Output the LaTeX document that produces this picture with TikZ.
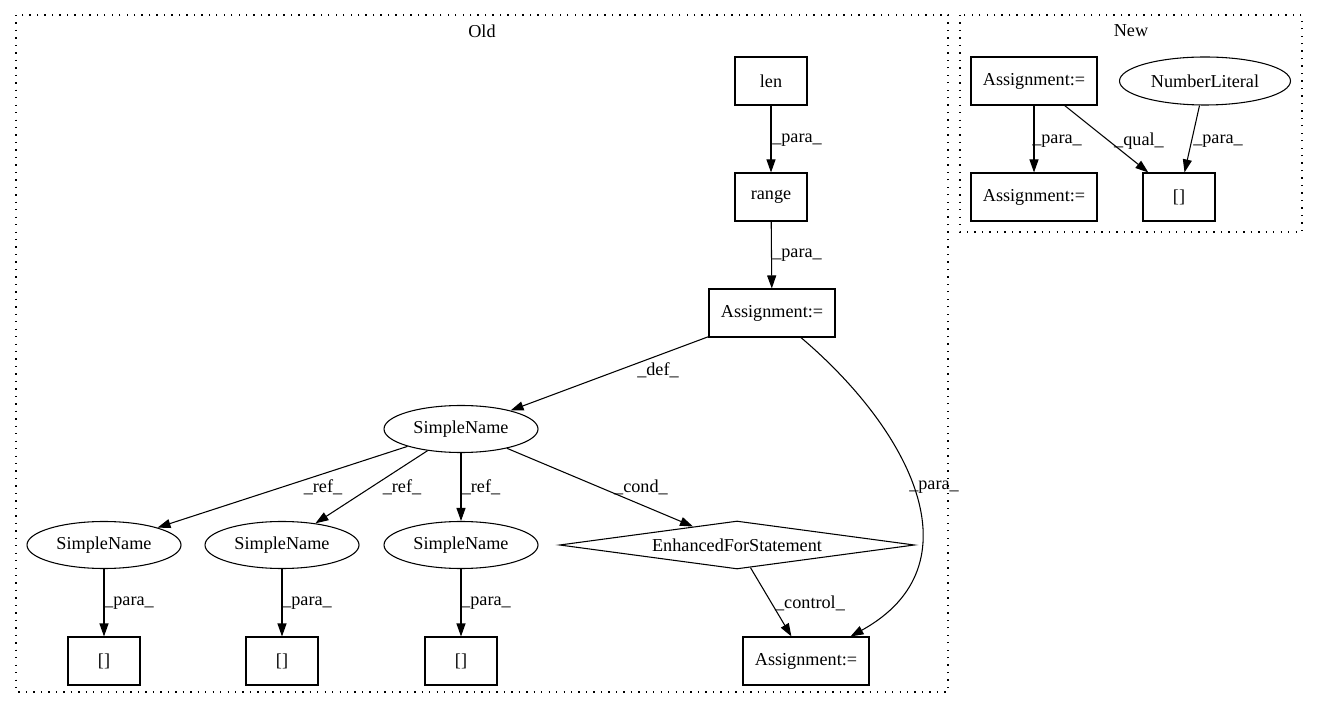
\documentclass[tikz,border=0pt]{standalone}
\usepackage{fontspec}
\setmainfont{Liberation Serif}
\usetikzlibrary{positioning, shapes.geometric, arrows.meta}
\newcommand{\pxUnit}{0.75pt}
\tikzstyle{graphPlane} = [x = \pxUnit, y = -\pxUnit, font=\fontsize{13.65}{16}\selectfont]
\tikzstyle{boxNode} = [draw, rectangle, line width=0.8pt, inner sep=0pt, minimum height=48*\pxUnit]
\tikzstyle{smallBox} = [boxNode, minimum width=72*\pxUnit]
\tikzstyle{wideBox} = [boxNode, minimum width=126*\pxUnit]
\tikzstyle{nameEllipse} = [draw, ellipse, line width=0.8pt, inner sep=0pt, minimum width=154*\pxUnit, minimum height=47*\pxUnit]
\tikzstyle{numEllipse} = [nameEllipse, minimum width=171*\pxUnit, minimum height=48*\pxUnit]
\tikzstyle{forDiamond} = [draw, diamond, aspect=7.4, line width=0.8pt, inner sep=0pt, minimum width=355*\pxUnit, minimum height=48*\pxUnit]
\tikzstyle{edgeLine} = [line width=0.8pt, -{Triangle[length=9.75pt, width=6.75pt]}]
\tikzstyle{edgeText} = [inner sep=0pt]
\tikzstyle{clusterLine} = [line width=0.8pt, dash pattern=on 1pt off 4.6pt]
\newcommand{\clusterFrame}[5]{\draw [clusterLine] (#1,#2) rectangle (#3,#4); \node (#5Label) at ({(#1+#3)/2}, #2+16) {#5};}
\newcommand{\labelledEdge}[5]{\draw [edgeLine] (#1) -- (#2); \node [edgeText] (#3) at (#4) {\_#5\_};}

\begin{document}
\begin{tikzpicture}[graphPlane]
          \useasboundingbox (0,0) rectangle (1317,712);
          \clusterFrame{16}{15}{948}{692}{Old}
          \clusterFrame{960}{15}{1302}{232}{New}

          % old side
          \node [smallBox] (len) at (771,81) {len};
          \node [smallBox] (range) at (771,197) {range};
          \node [wideBox] (rangeAssign) at (772,313) {Assignment:=};
          \node [nameEllipse] (loopVar) at (461,429) {SimpleName};
          \node [nameEllipse] (useA) at (104,545) {SimpleName};
          \node [nameEllipse] (useB) at (282,545) {SimpleName};
          \node [nameEllipse] (useC) at (461,545) {SimpleName};
          \node [forDiamond] (forLoop) at (737,545) {EnhancedForStatement};
          \node [smallBox] (accessA) at (104,661) {[]};
          \node [smallBox] (accessB) at (282,661) {[]};
          \node [smallBox] (accessC) at (461,661) {[]};
          \node [wideBox] (bodyAssign) at (806,661) {Assignment:=};

          \labelledEdge{len}{range}{paraLen}{797,140}{para}
          \labelledEdge{range}{rangeAssign}{paraRange}{797,255}{para}
          \labelledEdge{rangeAssign}{loopVar}{defVar}{658,370}{def}
          \labelledEdge{loopVar}{useA}{refA}{323,487}{ref}
          \labelledEdge{loopVar}{useB}{refB}{402,487}{ref}
          \labelledEdge{loopVar}{useC}{refC}{481,487}{ref}
          \labelledEdge{loopVar}{forLoop}{condLoop}{641,487}{cond}
          \labelledEdge{useA}{accessA}{paraA}{129,603}{para}
          \labelledEdge{useB}{accessB}{paraB}{307,603}{para}
          \labelledEdge{useC}{accessC}{paraC}{486,603}{para}
          \labelledEdge{forLoop}{bodyAssign}{controlLoop}{810,603}{control}
          \draw [edgeLine] (rangeAssign) .. controls (910,430) and (980,565) .. (bodyAssign);
          \node [edgeText] (paraBody) at (934,487) {\_para\_};

          % new side
          \node [wideBox] (newAssignA) at (1034,81) {Assignment:=};
          \node [numEllipse] (numLit) at (1205,81) {NumberLiteral};
          \node [wideBox] (newAssignB) at (1034,197) {Assignment:=};
          \node [smallBox] (newAccess) at (1179,197) {[]};

          \labelledEdge{newAssignA}{newAssignB}{paraNew}{1057,141}{para}
          \labelledEdge{newAssignA}{newAccess}{qualNew}{1139,141}{qual}
          \labelledEdge{numLit}{newAccess}{paraNum}{1218,141}{para}
        \end{tikzpicture}
\end{document}
